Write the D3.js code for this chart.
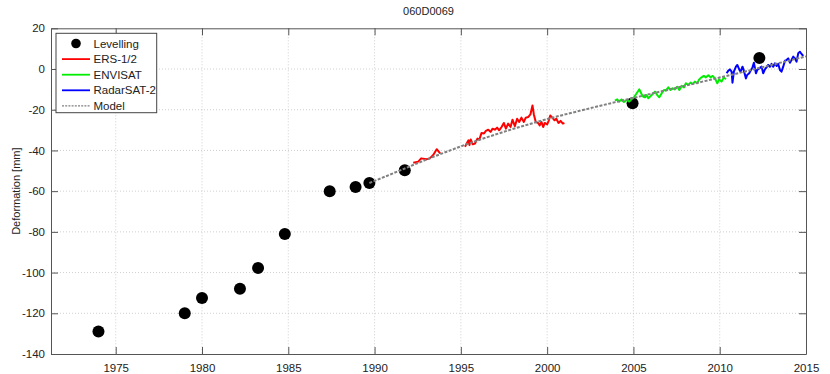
<!DOCTYPE html>
<html><head><meta charset="utf-8">
<script src="https://cdn.jsdelivr.net/npm/d3@7"></script>
<style>
body{margin:0;background:#fff;}
text{font-family:"Liberation Sans",Arial,sans-serif;}
</style></head>
<body><svg id="c" width="830" height="374"></svg>
<script>
const title = "060D0069";
const yLabel = "Deformation [mm]";
const xTicks = [1975,1980,1985,1990,1995,2000,2005,2010,2015];
const yTicks = [20,0,-20,-40,-60,-80,-100,-120,-140];

const levYears = [1974.0,1979.0,1980.0,1982.2,1983.25,1984.8,1987.4,1988.9,1989.7,1991.75,2004.95,2012.3];
const levVals  = [-129,-120,-112.5,-108,-97.7,-81,-60,-58,-56,-49.7,-16.8,5.4];

const ersYears = [1992.24,1992.53,1992.7,1993.0,1993.2,1993.4,1993.6,1993.8,null,
 1995.24,1995.34,1995.44,1995.5,1995.57,1995.69,1995.82,1995.96,1996.07,1996.2,1996.34,1996.45,1996.59,1996.72,1996.84,1996.97,1997.1,1997.22,1997.36,1997.49,1997.61,1997.74,1997.88,1997.99,1998.13,1998.26,1998.38,1998.51,1998.65,1998.76,1998.9,1999.03,1999.15,1999.23,1999.34,1999.48,1999.57,1999.67,1999.77,1999.86,2000.0,2000.1,2000.18,2000.3,2000.43,2000.53,2000.66,2000.78,2000.91,2001.0];
const ersVals = [-46.0,-45.5,-43.9,-44.3,-43.9,-42.2,-39.4,-41.4,null,
 -38.2,-36.6,-35,-37.4,-34.6,-37,-36.6,-34.2,-34.7,-31.4,-31.7,-30.4,-29.8,-30.9,-29.3,-29.8,-28.8,-30.1,-28.5,-26.5,-29.3,-26.8,-28.5,-24.9,-28.1,-24.4,-26,-23.9,-26,-23.9,-23.6,-22.3,-17.9,-22.3,-26,-26.5,-27.7,-26,-28.5,-26.5,-27.2,-25.2,-22.8,-23.9,-25.2,-24.4,-26.5,-25.5,-26.8,-26.5];

const envYears = [2003.93,2004.06,2004.18,2004.31,2004.45,2004.6,2004.76,2004.89,2005.03,2005.18,2005.34,2005.47,2005.57,2005.67,2005.76,2005.86,2006.0,2006.11,2006.25,2006.38,2006.5,2006.63,2006.77,2006.88,2007.02,2007.15,2007.27,2007.4,2007.54,2007.66,2007.79,2007.93,2008.04,2008.18,2008.31,2008.43,2008.56,2008.7,2008.81,2008.95,2009.08,2009.2,2009.34,2009.47,2009.59,2009.72,2009.86,2009.97,2010.11,2010.24,2010.36];
const envVals = [-15.5,-14.9,-16.0,-14.9,-16.2,-15.2,-16.0,-14.9,-13.9,-12.0,-10.0,-12.3,-13.6,-13.9,-12.8,-14.4,-13.3,-12.3,-11.1,-12.8,-13.9,-12.0,-10.3,-10.6,-9.0,-10.3,-9.5,-10.0,-8.7,-10.3,-8.3,-9.0,-7.0,-7.8,-6.7,-7.4,-6.2,-7.0,-5.1,-4.1,-3.4,-4.1,-3.1,-4.1,-3.4,-4.6,-7.0,-5.1,-6.2,-4.1,-5.1];

const rsYears = [2010.4,2010.5,2010.59,2010.69,2010.74,2010.82,2010.94,2011.02,2011.13,2011.21,2011.32,2011.4,2011.52,2011.59,2011.71,2011.79,2011.9,2011.98,2012.1,2012.17,2012.29,2012.43,2012.52,2012.62,2012.71,2012.81,2012.91,2013.0,2013.1,2013.2,2013.3,2013.39,2013.49,2013.58,2013.68,2013.78,2013.87,2013.97,2014.07,2014.16,2014.26,2014.36,2014.45,2014.55,2014.65,2014.74,2014.84];
const rsVals = [-2.1,-0.8,-0.2,-1.3,-6.7,-1.3,1.15,2.0,-0.2,-1.3,1.15,-0.8,-4.6,-2.9,-2.1,-0.8,0.8,3.1,-2.1,-0.5,0.3,1.15,-2.1,-0.2,0.8,2.0,1.15,2.5,1.15,2.8,1.5,2.5,-0.5,-1.3,1.15,4.1,4.4,5.2,3.1,4.4,6.1,5.2,3.6,7.7,8.5,7.4,6.4];

const modelYears = [1989.7,1991,1992,1993,1994,1995,1996,1997,1998,1999,2000,2001,2002,2003,2004,2005,2006,2007,2008,2009,2010,2011,2012,2013,2014,2015];
const modelVals  = [-56,-51.5,-48,-44.5,-41.2,-38,-35,-32.2,-29.5,-27,-24.6,-22.4,-20.3,-18.2,-16.2,-14.2,-12.2,-10.2,-8.2,-6.2,-4.2,-2.2,-0.1,2.0,4.1,6.2];

const svg = d3.select("#c");
const L=51, R=806, T=28.3, B=354;
const x = d3.scaleLinear().domain([1971.25,2015]).range([L,R]);
const y = d3.scaleLinear().domain([-140,20]).range([B,T]);
const axisCol = "#555";

// grid
const g = svg.append("g");
g.selectAll(".gx").data(xTicks.filter(d=>d<2015)).enter().append("line")
 .attr("x1",d=>x(d)).attr("x2",d=>x(d)).attr("y1",T).attr("y2",B)
 .attr("stroke","#c4c4c4").attr("stroke-width",0.8).attr("stroke-dasharray","1,2");
g.selectAll(".gy").data(yTicks.filter(d=>d>-140&&d<20)).enter().append("line")
 .attr("x1",L).attr("x2",R).attr("y1",d=>y(d)).attr("y2",d=>y(d))
 .attr("stroke","#c4c4c4").attr("stroke-width",0.8).attr("stroke-dasharray","1,2");

// axes
const fmt = d=>String(d);
svg.append("g").attr("transform",`translate(0,${B})`)
 .call(d3.axisBottom(x).tickValues(xTicks).tickFormat(fmt).tickSizeInner(-7).tickSizeOuter(0).tickPadding(10))
 .call(a=>{a.select(".domain").attr("stroke",axisCol);a.selectAll("line").attr("stroke",axisCol);a.selectAll("text").attr("font-size",11.5).attr("fill","#222");});
svg.append("g").attr("transform",`translate(0,${T})`)
 .call(d3.axisTop(x).tickValues(xTicks).tickFormat("").tickSizeInner(-7).tickSizeOuter(0))
 .call(a=>{a.select(".domain").attr("stroke",axisCol);a.selectAll("line").attr("stroke",axisCol);});
svg.append("g").attr("transform",`translate(${L},0)`)
 .call(d3.axisLeft(y).tickValues(yTicks).tickFormat(fmt).tickSizeInner(-7).tickSizeOuter(0).tickPadding(6))
 .call(a=>{a.select(".domain").attr("stroke",axisCol);a.selectAll("line").attr("stroke",axisCol);a.selectAll("text").attr("font-size",11.5).attr("fill","#222");});
svg.append("g").attr("transform",`translate(${R},0)`)
 .call(d3.axisRight(y).tickValues(yTicks).tickFormat("").tickSizeInner(-7).tickSizeOuter(0))
 .call(a=>{a.select(".domain").attr("stroke",axisCol);a.selectAll("line").attr("stroke",axisCol);});

// title & label
svg.append("text").attr("x",(L+R)/2).attr("y",15).attr("text-anchor","middle").attr("font-size",11).attr("fill","#222").text(title);
svg.append("text").attr("transform",`translate(20,${(T+B)/2}) rotate(-90)`).attr("text-anchor","middle").attr("font-size",11).attr("fill","#222").text(yLabel);

// levelling dots
svg.append("g").selectAll("circle").data(levYears.map((d,i)=>[d,levVals[i]])).enter().append("circle")
 .attr("cx",d=>x(d[0])).attr("cy",d=>y(d[1])).attr("r",6).attr("fill","#000");

const line = d3.line().defined(d=>d[0]!==null).x(d=>x(d[0])).y(d=>y(d[1]));
function series(ys,vs,col){
 svg.append("path").datum(ys.map((d,i)=>[d,vs[i]])).attr("d",line)
  .attr("fill","none").attr("stroke",col).attr("stroke-width",2).attr("stroke-linejoin","round");
}
series(ersYears,ersVals,"#ff0000");
series(envYears,envVals,"#00ee00");
series(rsYears,rsVals,"#0000ff");
svg.append("path").datum(modelYears.map((d,i)=>[d,modelVals[i]])).attr("d",d3.line().curve(d3.curveMonotoneX).x(d=>x(d[0])).y(d=>y(d[1])))
 .attr("fill","none").attr("stroke","#808080").attr("stroke-width",2).attr("stroke-dasharray","3,1.5");

// legend
const lg = svg.append("g");
lg.append("rect").attr("x",56).attr("y",33.3).attr("width",100.7).attr("height",79.4).attr("fill","#fff").attr("stroke","#444").attr("stroke-width",1);
const items = [
 {name:"Levelling",type:"dot"},
 {name:"ERS-1/2",col:"#ff0000"},
 {name:"ENVISAT",col:"#00ee00"},
 {name:"RadarSAT-2",col:"#0000ff"},
 {name:"Model",col:"#808080",dash:"2,1.2",w:1.2}];
items.forEach((it,i)=>{
 const yy = 43.5 + i*15.6;
 if(it.type==="dot") lg.append("circle").attr("cx",76).attr("cy",yy).attr("r",4.8).attr("fill","#000");
 else lg.append("line").attr("x1",62).attr("x2",90).attr("y1",yy).attr("y2",yy).attr("stroke",it.col).attr("stroke-width",it.w||1.8).attr("stroke-dasharray",it.dash||null);
 lg.append("text").attr("x",93.5).attr("y",yy+4).attr("font-size",11.5).attr("fill","#222").text(it.name);
});
</script></body></html>
